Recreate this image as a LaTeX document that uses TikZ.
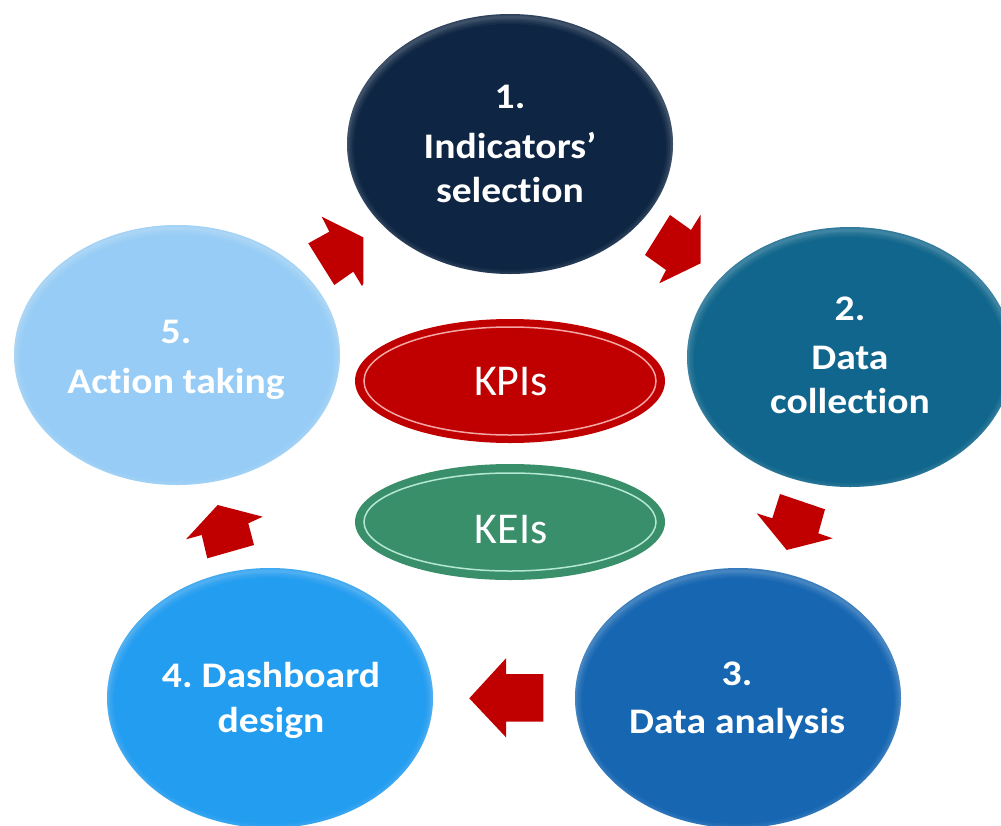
\documentclass[tikz,border=0pt]{standalone}
\usepackage{fontspec}
\setmainfont[Ligatures={NoCommon,NoContextual,NoRequired}]{Carlito}
\newfontfamily\labf[FakeStretch=1.1,Ligatures={NoCommon,NoContextual,NoRequired}]{Carlito}
\usetikzlibrary{shapes.geometric}
\newcommand{\nolig}{\kern0pt{}}
\definecolor{cone}{HTML}{0E2643}
\definecolor{ctwo}{HTML}{10668C}
\definecolor{cthree}{HTML}{1666B2}
\definecolor{cfour}{HTML}{239DF0}
\definecolor{cfive}{HTML}{96CCF5}
\definecolor{kred}{HTML}{C00000}
\definecolor{kredring}{HTML}{F2A6A6}
\definecolor{kgreen}{HTML}{3A8F6B}
\definecolor{kgreenring}{HTML}{B4E8D2}
\definecolor{arrowred}{HTML}{C00000}
\tikzset{
  stage/.style={ellipse, inner sep=0pt, minimum width=326pt, minimum height=260pt},
  stagetext/.style={anchor=base, text=white, font=\frenchspacing\labf\bfseries\fontsize{36}{44}\selectfont},
  keyell/.style={ellipse, inner sep=0pt, minimum width=310pt},
  keytext/.style={anchor=base, text=white, font=\fontsize{44}{50}\selectfont},
  blockarrow/.style={fill=arrowred, draw=none}
}
\begin{document}
\begin{tikzpicture}[x=1pt,y=-1pt]
\useasboundingbox (0,0) rectangle (1001,825);
\fill[white] (0,0) rectangle (1001,825);

% stage ellipses
\node[stage, fill=cone]   (e1) at (510,144) {};
\node[stage, fill=ctwo]   (e2) at (850,357) {};
\node[stage, fill=cthree] (e3) at (738,698) {};
\node[stage, fill=cfour]  (e4) at (270,698) {};
\node[stage, fill=cfive]  (e5) at (177,355) {};

% soft bevel highlights
\foreach \e in {e1,e2,e3,e4,e5}{
  \begin{scope}
    \clip (\e.center) ellipse [x radius=163pt, y radius=130pt];
    \foreach \w/\o in {14/0.04,10/0.05,6/0.06,3/0.07}{
      \draw[white, line width=\w pt, opacity=\o] ([yshift=-3pt]\e.center) ellipse [x radius=163pt, y radius=130pt];
    }
  \end{scope}
}

% stage texts
\node[stagetext] (t1a) at (510,108) {1.};
\node[stagetext] (t1b) at (510,158) {Indicators’};
\node[stagetext] (t1c) at (510,202) {select\nolig ion};

\node[stagetext] (t2a) at (850,320) {2.};
\node[stagetext] (t2b) at (850,369) {Data};
\node[stagetext] (t2c) at (850,413) {collect\nolig ion};

\node[stagetext] (t3a) at (737,685) {3.};
\node[stagetext] (t3b) at (737,733) {Data analysis};

\node[stagetext] (t4a) at (271,687) {4. Dashboard};
\node[stagetext] (t4b) at (271,732) {design};

\node[stagetext] (t5a) at (176,343) {5.};
\node[stagetext] (t5b) at (176,393) {Act\nolig ion taking};

% KPI / KEI ellipses
\node[keyell, minimum height=124pt, fill=kred] (kpi) at (510,381) {};
\draw[kredring, line width=1.5pt] (kpi.center) ellipse [x radius=146pt, y radius=54pt];
\node[keytext] (kpit) at (511,395) {KPIs};

\node[keyell, minimum height=116pt, fill=kgreen] (kei) at (510,522) {};
\draw[kgreenring, line width=1.5pt] (kei.center) ellipse [x radius=146pt, y radius=49pt];
\node[keytext] (keit) at (511,543) {KEIs};

% block arrows between stages
\fill[blockarrow] (321.7,216.7) -- (329.3,231.7) -- (308.3,243.3) -- (334.3,285) -- (353.3,271.7) -- (362,286) -- (363.3,283.5) -- (363.3,237.3) -- cycle;
\fill[blockarrow] (670,215) -- (691,230) -- (700.7,214.5) -- (700.7,263.3) -- (659.3,283.3) -- (666,270) -- (645,255) -- cycle;
\fill[blockarrow] (780,494) -- (825,509.3) -- (818.3,533.3) -- (832.7,538.3) -- (786.7,550) -- (756.7,513.3) -- (772.3,518.3) -- cycle;
\fill[blockarrow] (469.3,698.3) -- (506,658.3) -- (506,674) -- (543.3,674) -- (543.3,721.7) -- (506,721.7) -- (506,737.3) -- cycle;
\fill[blockarrow] (217.7,505) -- (262.7,516.7) -- (248.3,523.3) -- (254,545) -- (207.3,558.3) -- (201.7,535) -- (186,539.3) -- cycle;
\end{tikzpicture}
\end{document}
